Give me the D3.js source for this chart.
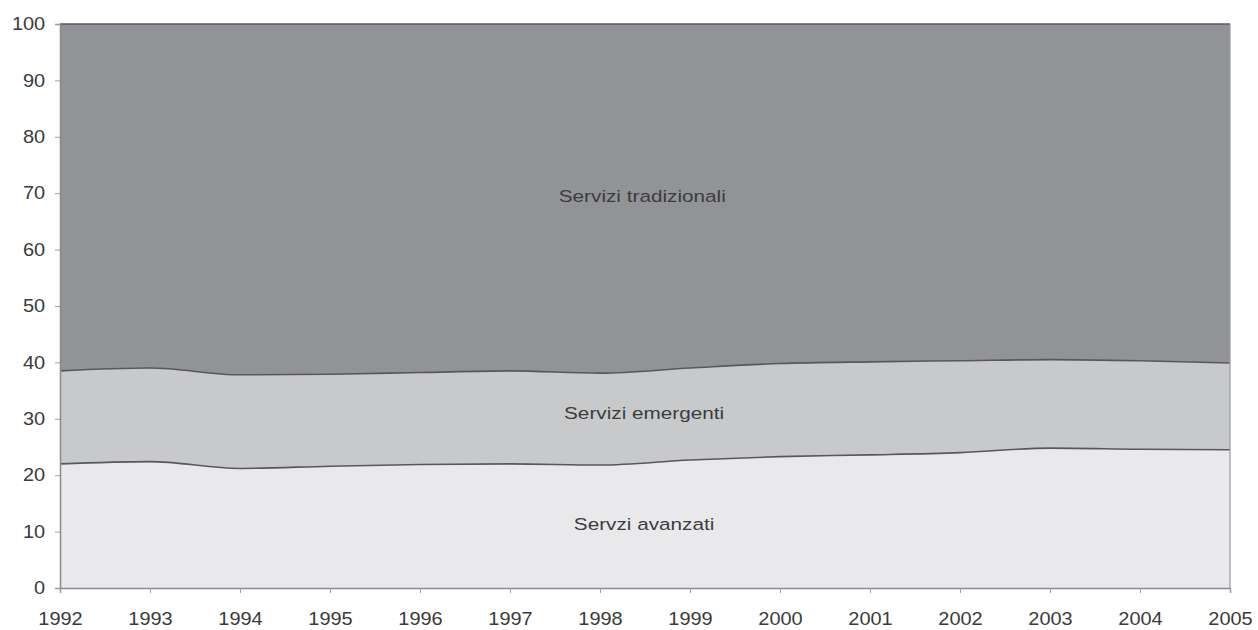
<!DOCTYPE html>
<html>
<head>
<meta charset="utf-8">
<script src="https://cdn.jsdelivr.net/npm/d3@7"></script>
<style>
  body { margin: 0; background: #fff; }
  svg { display: block; }
  text { font-family: "Liberation Sans", Arial, sans-serif; }
</style>
</head>
<body>
<svg id="chart" width="1258" height="630"></svg>
<script>
const years = [1992,1993,1994,1995,1996,1997,1998,1999,2000,2001,2002,2003,2004,2005];
const avanzati    = [22.0,22.4,21.2,21.6,21.9,22.0,21.8,22.7,23.3,23.6,24.0,24.8,24.6,24.5];
const emergenti   = [16.5,16.6,16.6,16.3,16.3,16.5,16.3,16.3,16.5,16.5,16.3,15.7,15.7,15.4];
const tradizionali = avanzati.map((a,i) => +(100 - a - emergenti[i]).toFixed(1));
const seriesNames = ["Servzi avanzati","Servizi emergenti","Servizi tradizionali"];
const seriesColors = ["#e9e9eb","#c8c9cb","#929397"];
const yTicks = [0,10,20,30,40,50,60,70,80,90,100];

const margin = {left: 60, right: 28, top: 24, bottom: 42};
const W = 1258, H = 630;
const svg = d3.select("#chart");

const x = d3.scaleLinear().domain([years[0], years[years.length-1]]).range([margin.left, W - margin.right]);
const y = d3.scaleLinear().domain([0,100]).range([H - margin.bottom, margin.top]);

const data = years.map((yr,i) => ({year: yr, a: avanzati[i], e: emergenti[i], t: tradizionali[i]}));
const stack = d3.stack().keys(["a","e","t"]);
const layers = stack(data);

const curve = d3.curveMonotoneX;
const area = d3.area().x(d => x(d.data.year)).y0(d => y(d[0])).y1(d => y(d[1])).curve(curve);
const line = d3.line().x(d => x(d.data.year)).y(d => y(d[1])).curve(curve);

svg.selectAll("path.area").data(layers).join("path")
  .attr("class","area")
  .attr("d", area)
  .attr("fill", (d,i) => seriesColors[i]);

svg.selectAll("path.line").data(layers).join("path")
  .attr("class","line")
  .attr("d", line)
  .attr("fill","none")
  .attr("stroke","#58585c")
  .attr("stroke-width",1.6);

// right border
svg.append("line")
  .attr("x1", x(2005)).attr("x2", x(2005))
  .attr("y1", y(0)).attr("y2", y(100))
  .attr("stroke","#9a9a9e").attr("stroke-width",1.2);

// Axes
const yAxis = d3.axisLeft(y).tickValues(yTicks).tickSize(5).tickPadding(8).tickFormat(d3.format("d"));
const gy = svg.append("g").attr("transform",`translate(${margin.left},0)`).call(yAxis);
const xAxis = d3.axisBottom(x).tickValues(years).tickSize(5).tickPadding(17).tickFormat(d3.format("d"));
const gx = svg.append("g").attr("transform",`translate(0,${H - margin.bottom})`).call(xAxis);

[gx, gy].forEach(g => {
  g.select(".domain").attr("stroke","#8a8a8e").attr("stroke-width",1.5);
  g.selectAll(".tick line").attr("stroke","#a0a0a4").attr("stroke-width",1);
  g.selectAll(".tick text").attr("fill","#3a3a3a").attr("font-size",17.5)
    .attr("font-family","'Liberation Sans', Arial, sans-serif")
    .attr("transform","scale(1.14,1)");
});
gx.selectAll(".tick text").attr("y", 31).attr("dy","0.35em");

// Series labels
const labelPos = [
  {name: seriesNames[0], year: 1998.49, val: 11.3},
  {name: seriesNames[1], year: 1998.49, val: 31.0},
  {name: seriesNames[2], year: 1998.47, val: 69.5}
];
svg.selectAll("text.lbl").data(labelPos).join("text")
  .attr("class","lbl")
  .attr("transform", d => `translate(${x(d.year)},${y(d.val)}) scale(1.22,1)`)
  .attr("text-anchor","middle")
  .attr("dy","0.35em")
  .attr("font-size",17)
  .attr("fill","#3c3c3e")
  .text(d => d.name);
</script>
</body>
</html>
